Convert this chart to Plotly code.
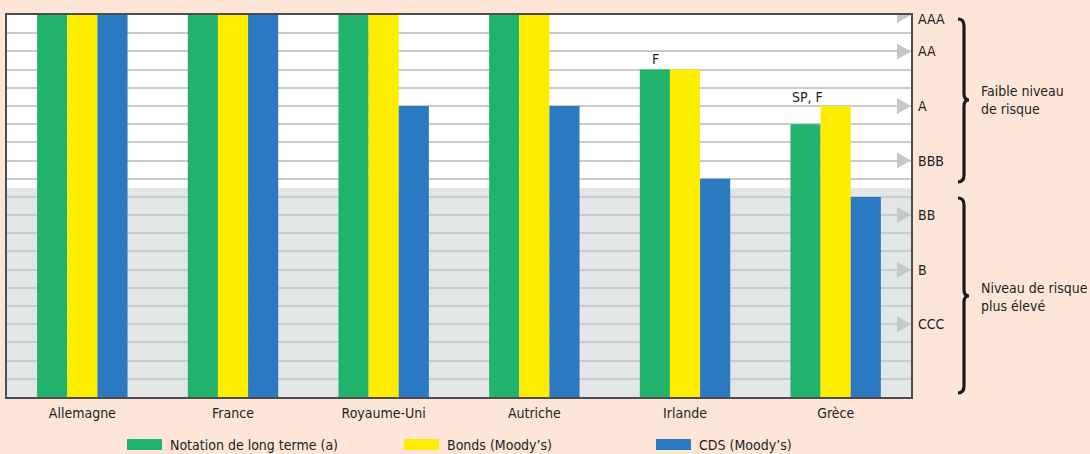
import plotly.graph_objects as go

# Country groups and ratings on a notch scale (AAA = 21, AA = 19, A = 16, BBB = 13, BB = 10, B = 7, CCC = 4)
countries = ["Allemagne", "France", "Royaume-Uni", "Autriche", "Irlande", "Grèce"]
notation_lt = [21, 21, 21, 21, 18, 15]
bonds_moodys = [21, 21, 21, 21, 18, 16]
cds_moodys = [21, 21, 16, 16, 12, 11]

series_names = ["Notation de long terme (a)", "Bonds (Moody’s)", "CDS (Moody’s)"]
series_colors = ["#21b36b", "#ffed00", "#2b79c0"]

rating_labels = ["AAA", "AA", "A", "BBB", "BB", "B", "CCC"]
rating_levels = [21, 19, 16, 13, 10, 7, 4]
high_risk_ceiling = 11.5

FONT = "DejaVu Sans Condensed, Arial Narrow, sans-serif"
FS = 14
TXT = "#231f20"
BG = "#fde6d8"

W, H = 1090, 454
L, R, T, B = 7, 179, 15, 57
PW, PH = W - L - R, H - T - B


def px_x(px):
    return (px - L) / PW


def px_y(py):
    return (H - B - py) / PH


fig = go.Figure()
for name, vals, col in zip(series_names, [notation_lt, bonds_moodys, cds_moodys], series_colors):
    fig.add_trace(go.Bar(x=countries, y=vals, name=name, marker=dict(color=col, line_width=0),
                         showlegend=False))

shapes = []
# shaded zone for higher risk
shapes.append(dict(type="rect", xref="paper", yref="y", x0=0, x1=1, y0=0, y1=high_risk_ceiling,
                   fillcolor="#e3e6e7", line_width=0, layer="below"))

# grey arrowheads marking each rating level
for lv in rating_levels:
    shapes.append(dict(type="path", xref="paper", yref="y", xsizemode="pixel", ysizemode="pixel",
                       xanchor=1, yanchor=lv, path="M -14,8 L 0,0 L -14,-8 Z",
                       fillcolor="#c5c7c9", line_width=0, layer="above"))


def brace(y1, y2, ym, xe=958, xs=964, xt=969):
    p = (f"M {px_x(xe)},{px_y(y1)} Q {px_x(xs)},{px_y(y1)} {px_x(xs)},{px_y(y1 + 7)} "
         f"L {px_x(xs)},{px_y(ym - 6)} Q {px_x(xs)},{px_y(ym)} {px_x(xt)},{px_y(ym)} "
         f"Q {px_x(xs)},{px_y(ym)} {px_x(xs)},{px_y(ym + 6)} "
         f"L {px_x(xs)},{px_y(y2 - 7)} Q {px_x(xs)},{px_y(y2)} {px_x(xe)},{px_y(y2)}")
    return dict(type="path", xref="paper", yref="paper", path=p,
                line=dict(color="#1a1a1a", width=3.2))


shapes.append(brace(19, 182, 100))
shapes.append(brace(198, 393, 296))

# legend swatches
legend_x = [127, 404, 656]
for lx, col in zip(legend_x, series_colors):
    shapes.append(dict(type="rect", xref="paper", yref="paper", x0=px_x(lx), x1=px_x(lx + 35),
                       y0=px_y(450), y1=px_y(439), fillcolor=col, line_width=0))

annotations = []
for lx, name in zip(legend_x, series_names):
    annotations.append(dict(xref="paper", yref="paper", x=px_x(lx + 41), y=px_y(444.5),
                            xanchor="left", yanchor="middle", text=name, showarrow=False,
                            font=dict(family=FONT, size=FS, color=TXT)))

for lab, lv in zip(rating_labels, rating_levels):
    annotations.append(dict(xref="paper", yref="y", x=px_x(916), y=lv, xanchor="left",
                            yanchor="middle", text=lab, showarrow=False,
                            yshift=-4 if lv == 21 else 0,
                            font=dict(family=FONT, size=FS, color=TXT)))

annotations.append(dict(xref="paper", yref="paper", x=px_x(979), y=px_y(100), xanchor="left",
                        yanchor="middle", align="left", text="Faible niveau<br>de risque",
                        showarrow=False, font=dict(family=FONT, size=FS, color=TXT)))
annotations.append(dict(xref="paper", yref="paper", x=px_x(979), y=px_y(297), xanchor="left",
                        yanchor="middle", align="left", text="Niveau de risque<br>plus élevé",
                        showarrow=False, font=dict(family=FONT, size=FS, color=TXT)))

# rating agency notes above bars
annotations.append(dict(x="Irlande", y=notation_lt[4], xshift=-30, yshift=1, yanchor="bottom",
                        text="F", showarrow=False, font=dict(family=FONT, size=FS, color=TXT)))
annotations.append(dict(x="Grèce", y=bonds_moodys[5], xshift=-28, yshift=-1, yanchor="bottom",
                        text="SP, F", showarrow=False, font=dict(family=FONT, size=FS, color=TXT)))

fig.update_layout(
    width=W, height=H,
    margin=dict(l=L, r=R, t=T, b=B),
    paper_bgcolor=BG, plot_bgcolor="white",
    barmode="group", bargap=0.4, bargroupgap=0,
    shapes=shapes, annotations=annotations,
    font=dict(family=FONT, size=FS, color=TXT),
    xaxis=dict(showgrid=False, ticks="", showline=True, linecolor="#4d4d4d", linewidth=1.5,
               mirror=True, ticklabelstandoff=2, tickfont=dict(family=FONT, size=FS, color=TXT)),
    yaxis=dict(range=[0, 21], dtick=1, showgrid=True, gridcolor="#cbcbcb", gridwidth=1.5,
               showticklabels=False, ticks="", zeroline=False, showline=True,
               linecolor="#4d4d4d", linewidth=1.5, mirror=True),
)

fig.write_html("out.html")
